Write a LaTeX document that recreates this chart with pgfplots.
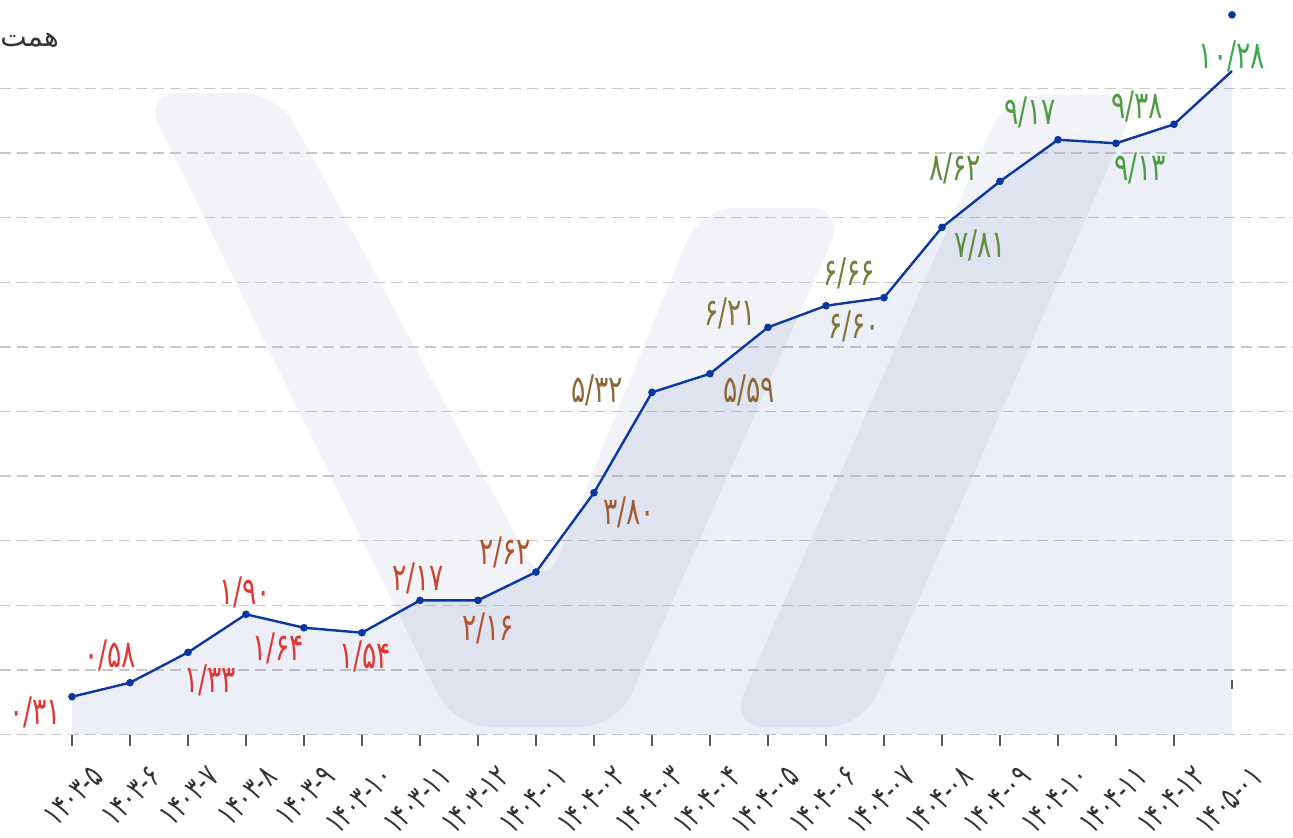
\documentclass[border=0pt]{standalone}
\usepackage{fontspec}
\usepackage{pgfplots}
\usepackage{pgfplotstable}
\pgfplotsset{compat=1.18}
\TeXXeTstate=1
\newfontfamily\fa[Script=Arabic,FakeStretch=0.7]{DejaVu Sans}
\newfontfamily\faw[Script=Arabic]{DejaVu Sans}
\definecolor{lineblue}{RGB}{10,56,160}
\definecolor{areablue}{RGB}{65,95,175}
\definecolor{wm}{RGB}{241,243,248}
\definecolor{gridgray}{RGB}{200,200,200}
\definecolor{cA}{RGB}{225,55,50}
\definecolor{cB}{RGB}{196,72,44}
\definecolor{cC}{RGB}{178,84,46}
\definecolor{cD}{RGB}{160,92,48}
\definecolor{cE}{RGB}{140,104,52}
\definecolor{cF}{RGB}{128,118,56}
\definecolor{cG}{RGB}{112,128,58}
\definecolor{cH}{RGB}{92,140,60}
\definecolor{cI}{RGB}{78,155,64}
\definecolor{cJ}{RGB}{56,168,72}

\pgfplotstableread{
x y
0 0.585
1 0.802
2 1.272
3 1.861
4 1.653
5 1.576
6 2.077
7 2.077
8 2.515
9 3.743
10 5.297
11 5.585
12 6.303
13 6.638
14 6.762
15 7.851
16 8.563
17 9.207
18 9.152
19 9.446
20 10.271
}\datatab

\begin{document}
\begin{tikzpicture}
% faint watermark (pixel coordinates of the reference)
\begin{scope}[x=0.5pt,y=-0.5pt]
\fill[wm] (143,93) [rounded corners=18pt] -- (278,93) -- (545,590) -- (700,208) -- (846,208) -- (617,727) -- (454,727) -- cycle;
\fill[wm, rounded corners=18pt] (1006,95) -- (1140,95) -- (863,727) -- (729,727) -- cycle;
\end{scope}
\begin{axis}[
  at={(0,0)}, anchor=north west,
  width=646.5pt, height=367.25pt, scale only axis,
  xmin=-1.2414, xmax=21.052, ymin=0, ymax=11.37,
  clip=false,
  axis x line*=bottom, axis y line*=left,
  axis line style={draw=none},
  ytick={0,...,10}, yticklabels={}, ytick style={draw=none},
  ymajorgrids,
  grid style={gridgray, line width=0.75pt, dash pattern=on 5.5pt off 3pt},
  xtick={0,...,19},
  xticklabels={۱۴۰۳-۵,۱۴۰۳-۶,۱۴۰۳-۷,۱۴۰۳-۸,۱۴۰۳-۹,۱۴۰۳-۱۰,۱۴۰۳-۱۱,۱۴۰۳-۱۲,۱۴۰۴-۰۱,۱۴۰۴-۰۲,۱۴۰۴-۰۳,۱۴۰۴-۰۴,۱۴۰۴-۰۵,۱۴۰۴-۰۶,۱۴۰۴-۰۷,۱۴۰۴-۰۸,۱۴۰۴-۰۹,۱۴۰۴-۱۰,۱۴۰۴-۱۱,۱۴۰۴-۱۲},
  extra x ticks={20}, extra x tick labels={۱۴۰۵-۰۱},
  extra x tick style={tick style={draw=none}},
  tick align=outside, major tick length=5.5pt,
  xtick style={black!65, line width=0.8pt},
  xticklabel style={xshift=13pt, yshift=-13pt, rotate=45, anchor=east, inner sep=0pt, text=black!80, font=\fa\fontsize{16}{17}\selectfont},
]
\addplot[draw=none, fill=areablue, fill opacity=0.1] table[x=x,y=y]{\datatab} \closedcycle;
\addplot[lineblue, line width=1.2pt, mark=none] table[x=x,y=y]{\datatab};
\addplot[only marks, mark=*, mark size=1.7pt, lineblue, restrict x to domain=0:19] table[x=x,y=y]{\datatab};
\addplot[only marks, mark=*, mark size=1.7pt, lineblue] coordinates {(20,11.14)};
\addplot[only marks, mark=none, nodes near coords, point meta=explicit symbolic,
  every node near coord/.append style={anchor=center, inner sep=0pt, font=\fa\fontsize{19}{19}\selectfont}]
  coordinates {
  (-0.638,0.348)[\color{cA}۰/۳۱]
  (0.655,1.231)[\color{cA}۰/۵۸]
  (2.379,0.844)[\color{cA}۱/۳۳]
  (2.983,2.206)[\color{cA}۱/۹۰]
  (3.552,1.339)[\color{cA}۱/۶۴]
  (5.052,1.215)[\color{cA}۱/۵۴]
  (5.966,2.423)[\color{cB}۲/۱۷]
  (7.172,1.649)[\color{cC}۲/۱۶]
  (7.466,2.825)[\color{cC}۲/۶۲]
  (9.603,3.444)[\color{cD}۳/۸۰]
  (9.052,5.333)[\color{cE}۵/۳۲]
  (11.672,5.333)[\color{cE}۵/۵۹]
  (11.345,6.525)[\color{cF}۶/۲۱]
  (13.483,6.324)[\color{cF}۶/۶۰]
  (13.397,7.144)[\color{cG}۶/۶۶]
  (15.655,7.577)[\color{cH}۷/۸۱]
  (15.224,8.769)[\color{cH}۸/۶۲]
  (16.517,9.636)[\color{cI}۹/۱۷]
  (18.414,8.769)[\color{cI}۹/۱۳]
  (18.362,9.729)[\color{cI}۹/۳۸]
  (20.0,10.50)[\color{cJ}۱۰/۲۸]
  };
\node[anchor=west, inner sep=0pt, font=\faw\fontsize{14}{14}\selectfont, text=black!80] at (axis cs:-1.2414,10.75) {\beginR همت\endR};
\end{axis}
\begin{scope}[x=0.5pt,y=-0.5pt]
\draw[black!65, line width=0.8pt] (1232,680) -- (1232,689);
\end{scope}
\pgfresetboundingbox
\path (0,0) rectangle (646.5pt,-418.5pt);
\end{tikzpicture}
\end{document}
